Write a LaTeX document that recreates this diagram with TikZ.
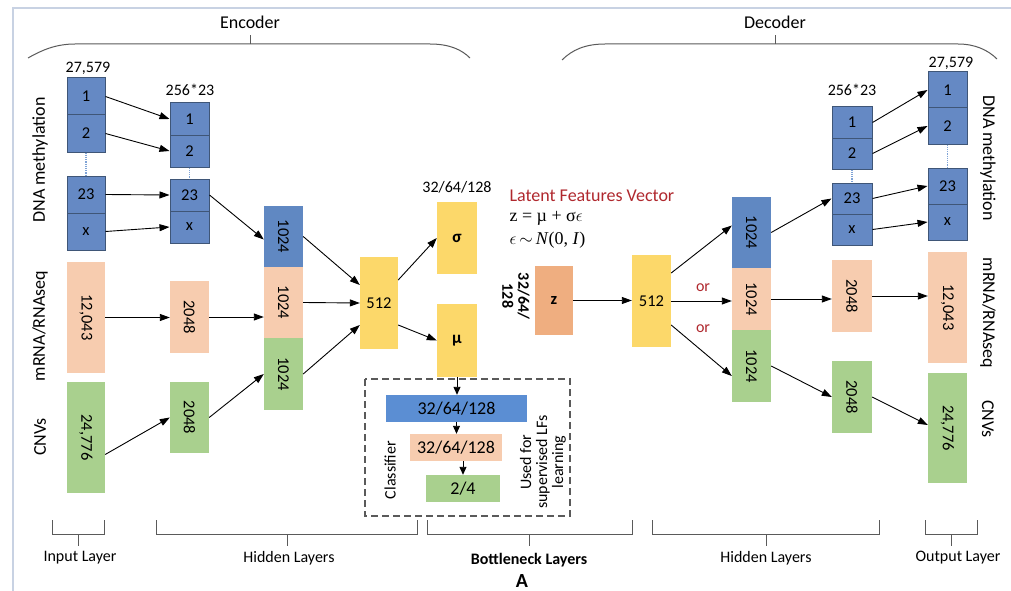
\documentclass[tikz,border=0pt]{standalone}
\usepackage{fontspec}
\usepackage{graphicx}
\setmainfont{Carlito}
\newfontfamily\eqfont{Liberation Serif}
\usetikzlibrary{arrows.meta,calc}

\definecolor{cellblue}{HTML}{6589C4}
\definecolor{cellline}{HTML}{3F5677}
\definecolor{hidblue}{HTML}{6088C2}
\definecolor{pk}{HTML}{F7CCAF}
\definecolor{gn}{HTML}{A9D08E}
\definecolor{yl}{HTML}{FCD86A}
\definecolor{zc}{HTML}{EFAE80}
\definecolor{clsblue}{HTML}{5B8ED3}
\definecolor{redtxt}{HTML}{B0282E}
\definecolor{dotblue}{HTML}{7FA3D6}
\definecolor{brkgray}{HTML}{5A5A5A}
\definecolor{framecol}{HTML}{C8D2E3}

\newcommand\pxf[1]{\fontsize{#1}{#1}\selectfont}
\newcommand\vtxt[1]{\rotatebox{-90}{#1}}

\tikzset{
  cell/.style={draw=cellline, line width=1pt, fill=cellblue, inner sep=0pt,
               font=\pxf{16.5}},
  blk/.style={inner sep=0pt, font=\pxf{16.5}},
  arr/.style={-{Triangle[length=10pt,width=7pt]}, line width=0.9pt},
  sarr/.style={-{Triangle[length=8pt,width=7pt]}, line width=0.9pt},
  dotl/.style={draw=dotblue, densely dotted, line width=1.2pt},
  brk/.style={draw=brkgray, line width=1pt},
  brace/.style={draw=brkgray, line width=1pt},
  lbl/.style={font=\pxf{16}},
  side/.style={font=\pxf{18}},
  ortxt/.style={font=\pxf{16}, text=redtxt},
}

\begin{document}
\begin{tikzpicture}[x=1pt,y=-1pt]
\useasboundingbox (0,0) rectangle (1011,591);
\fill[white] (0,0) rectangle (1011,591);

% outer frame
\draw[framecol, line width=1.6pt] (13,591) -- (13,8) -- (1011,8);

% encoder / decoder braces
\draw[brace] (28,58) .. controls (42,50) and (56,44) .. (75,44) -- (430,44)
             .. controls (450,44) and (462,50) .. (470,58);
\draw[brace] (250,44) -- (250,35);
\node[font=\pxf{18}] (enc) at (250,22) {Encoder};
\draw[brace] (562,60) .. controls (572,50) and (585,44) .. (605,44) -- (958,44)
             .. controls (975,44) and (988,50) .. (997,59);
\draw[brace] (775,44) -- (775,35);
\node[font=\pxf{18}] (dec) at (775,22) {Decoder};

% ---------------- input layer ----------------
\node[lbl] (nin) at (88,68) {27,579};
\node[cell, minimum width=38pt, minimum height=37pt] (i1) at (86,96.5) {1};
\node[cell, minimum width=38pt, minimum height=37pt] (i2) at (86,133.5) {2};
\node[cell, minimum width=38pt, minimum height=37pt] (i23) at (86,194.5) {23};
\node[cell, minimum width=38pt, minimum height=37pt] (ix) at (86,231.5) {x};
\draw[dotl] (i2.south) -- (i23.north);
\node[blk, fill=pk, minimum width=38pt, minimum height=111pt] (ip) at (86,317.5) {\vtxt{12,043}};
\node[blk, fill=gn, minimum width=38pt, minimum height=111pt] (ig) at (86,437.5) {\vtxt{24,776}};

\node[side, rotate=90] (ldna) at (40,160) {DNA methylation};
\node[side, rotate=90] (lrna) at (40,326) {mRNA/RNAseq};
\node[side, rotate=90] (lcnv) at (40,437) {CNVs};

% ---------------- encoder hidden ----------------
\node[lbl] (nes) at (190,90) {256*23};
\node[cell, minimum width=39pt, minimum height=32pt] (e1) at (189.5,119) {1};
\node[cell, minimum width=39pt, minimum height=32pt] (e2) at (189.5,151) {2};
\node[cell, minimum width=39pt, minimum height=32pt] (e23) at (189.5,195) {23};
\node[cell, minimum width=39pt, minimum height=32pt] (ex) at (189.5,227) {x};
\draw[dotl] (e2.south) -- (e23.north);
\node[blk, fill=pk, minimum width=39pt, minimum height=72pt] (ep) at (189.5,317) {\vtxt{2048}};
\node[blk, fill=gn, minimum width=39pt, minimum height=71pt] (eg) at (189.5,417.5) {\vtxt{2048}};

\node[blk, fill=hidblue, minimum width=39pt, minimum height=61pt] (hb) at (283.5,236.5) {\vtxt{1024}};
\node[blk, fill=pk, minimum width=39pt, minimum height=71pt] (hp) at (283.5,302.5) {\vtxt{1024}};
\node[blk, fill=gn, minimum width=39pt, minimum height=72pt] (hg) at (283.5,374) {\vtxt{1024}};

\node[blk, fill=yl, minimum width=38pt, minimum height=92pt] (y1) at (379,303) {512};

\node[lbl] (nsg) at (457,187) {32/64/128};
\node[blk, fill=yl, minimum width=40pt, minimum height=72pt, font=\pxf{17}\bfseries] (sg) at (457,238) {σ};
\node[blk, fill=yl, minimum width=40pt, minimum height=73pt, font=\pxf{17}\bfseries] (mu) at (457,340.5) {µ};

% classifier
\draw[brkgray, dashed, dash pattern=on 7pt off 4pt, line width=1.4pt] (365,379) rectangle (570,516);
\node[blk, fill=clsblue, minimum width=141pt, minimum height=27pt, font=\pxf{18}] (cb) at (456.5,408.5) {32/64/128};
\node[blk, fill=pk, minimum width=92pt, minimum height=27pt, font=\pxf{18}] (cp) at (456,447.5) {32/64/128};
\node[blk, fill=gn, minimum width=74pt, minimum height=27pt, font=\pxf{18}] (cg) at (463,488.5) {2/4};
\node[font=\pxf{16}, rotate=90] (ncl) at (390,470) {Classifier};
\node[font=\pxf{16}, rotate=90, align=center] (nsup) at (543,462) {Used for\\supervised LFs\\learning};

% encoder connectors
\draw[arr] (i1.east) -- (e1.west);
\draw[arr] (i2.east) -- (e2.west);
\draw[arr] (i23.east) -- (e23.west);
\draw[arr] (ix.east) -- (ex.west);
\draw[arr] (e23.east) -- ([yshift=-3pt]hb.west);
\draw[arr] (ip.east) -- (ip.east -| ep.west);
\draw[arr] (ep.east) -- (ep.east -| hp.west);
\draw[arr] ([yshift=-17pt]ig.east) -- (eg.west);
\draw[arr] (eg.east) -- (hg.west);
\draw[arr] (hb.east) -- ([yshift=18pt]y1.west);
\draw[arr] (hp.east) -- (y1.west);
\draw[arr] (hg.east) -- ([yshift=-22pt]y1.west);
\draw[arr] ([yshift=23pt]y1.east) -- (sg.west);
\draw[arr] ([yshift=-22pt]y1.east) -- (mu.west);
\draw[sarr] (mu.south) -- (mu.south |- cb.north);
\draw[sarr] (cb.south) -- (cb.south |- cp.north);
\draw[sarr] (cp.south -| cg.north) -- (cg.north);

% ---------------- latent ----------------
\node[font=\pxf{18}, text=redtxt, anchor=west] (lfv) at (506,196) {Latent Features Vector};
\node[font=\eqfont\pxf{18}, anchor=west] (eq1) at (506,218) {z = µ + σ$\epsilon$};
\node[font=\eqfont\pxf{18}, anchor=west] (eq2) at (506,240) {$\epsilon$\,$\sim$\,\textit{N}(0, \textit{I})};
\node[blk, fill=zc, minimum width=38pt, minimum height=69pt, font=\pxf{16.5}\bfseries] (z) at (554,300.5) {z};
\node[font=\pxf{16}\bfseries, rotate=-90, align=center] (nz) at (516,296) {32/64/\\128};

% ---------------- decoder ----------------
\node[blk, fill=yl, minimum width=39pt, minimum height=92pt] (dy) at (651.5,301) {512};
\draw[arr] (z.east) -- (z.east -| dy.west);

\node[blk, fill=hidblue, minimum width=39pt, minimum height=71pt] (db) at (751.5,232.5) {\vtxt{1024}};
\node[blk, fill=pk, minimum width=39pt, minimum height=62pt] (dp) at (751.5,299) {\vtxt{1024}};
\node[blk, fill=gn, minimum width=39pt, minimum height=72pt] (dg) at (751.5,366) {\vtxt{1024}};

\node[ortxt] (or1) at (703,288) {or};
\node[ortxt] (or2) at (703,329) {or};

\node[lbl] (nds) at (852,90) {256*23};
\node[cell, minimum width=40pt, minimum height=31pt] (d1) at (852,122.5) {1};
\node[cell, minimum width=40pt, minimum height=31pt] (d2) at (852,153.5) {2};
\node[cell, minimum width=40pt, minimum height=31pt] (d23) at (852,198.5) {23};
\node[cell, minimum width=40pt, minimum height=31pt] (dx) at (852,229.5) {x};
\draw[dotl] (d2.south) -- (d23.north);
\node[blk, fill=pk, minimum width=40pt, minimum height=72pt] (dpp) at (852,296) {\vtxt{2048}};
\node[blk, fill=gn, minimum width=40pt, minimum height=72pt] (dgg) at (852,397) {\vtxt{2048}};

\node[lbl] (nout) at (951,63) {27,579};
\node[cell, minimum width=39pt, minimum height=36pt] (o1) at (947.5,90) {1};
\node[cell, minimum width=39pt, minimum height=36pt] (o2) at (947.5,126) {2};
\node[cell, minimum width=39pt, minimum height=36pt] (o23) at (947.5,186) {23};
\node[cell, minimum width=39pt, minimum height=36pt] (ox) at (947.5,222) {x};
\draw[dotl] (o2.south) -- (o23.north);
\node[blk, fill=pk, minimum width=39pt, minimum height=111pt] (op) at (947.5,307.5) {\vtxt{12,043}};
\node[blk, fill=gn, minimum width=39pt, minimum height=110pt] (og) at (947.5,428) {\vtxt{24,776}};

\node[side, rotate=-90] (rdna) at (988,158) {DNA methylation};
\node[side, rotate=-90] (rrna) at (988,313) {mRNA/RNAseq};
\node[side, rotate=-90] (rcnv) at (988,419) {CNVs};

% decoder connectors
\draw[arr] ([yshift=28pt]dy.east) -- ([yshift=7pt]db.west);
\draw[arr] (dy.east) -- (dy.east -| dp.west);
\draw[arr] ([yshift=-24pt]dy.east) -- ([yshift=-10pt]dg.west);
\draw[arr] (db.east) -- (d23.west);
\draw[arr] (dp.east) -- (dp.east -| dpp.west);
\draw[arr] (dg.east) -- (dgg.west);
\draw[arr] (dpp.east) -- (dpp.east -| op.west);
\draw[arr] (dgg.east) -- ([yshift=3pt]og.west);
\draw[arr] (d1.east) -- (o1.west);
\draw[arr] (d2.east) -- (o2.west);
\draw[arr] (d23.east) -- (o23.west);
\draw[arr] (dx.east) -- (ox.west);

% ---------------- layer brackets ----------------
\draw[brk] (52,520) -- (52,534) -- (104,534) -- (104,520);
\draw[brk] (78,534) -- (78,546);
\node[lbl] (lin) at (80,558) {Input Layer};

\draw[brk] (156,520) -- (156,534) -- (417,534) -- (417,520);
\draw[brk] (287,534) -- (287,546);
\node[lbl] (lhe) at (289,558) {Hidden Layers};

\draw[brk] (427,520) -- (427,534) -- (632,534) -- (632,520);
\draw[brk] (529,534) -- (529,546);
\node[lbl, font=\pxf{16}\bfseries] (lbn) at (529,560) {Bottleneck Layers};
\node[font=\pxf{20}\bfseries, inner sep=0pt] (fa) at (522,581) {A};

\draw[brk] (652,520) -- (652,534) -- (879,534) -- (879,520);
\draw[brk] (766,534) -- (766,546);
\node[lbl] (lhd) at (766,558) {Hidden Layers};

\draw[brk] (925,520) -- (925,534) -- (977,534) -- (977,520);
\draw[brk] (951,534) -- (951,546);
\node[lbl] (lout) at (958,558) {Output Layer};
\end{tikzpicture}
\end{document}
